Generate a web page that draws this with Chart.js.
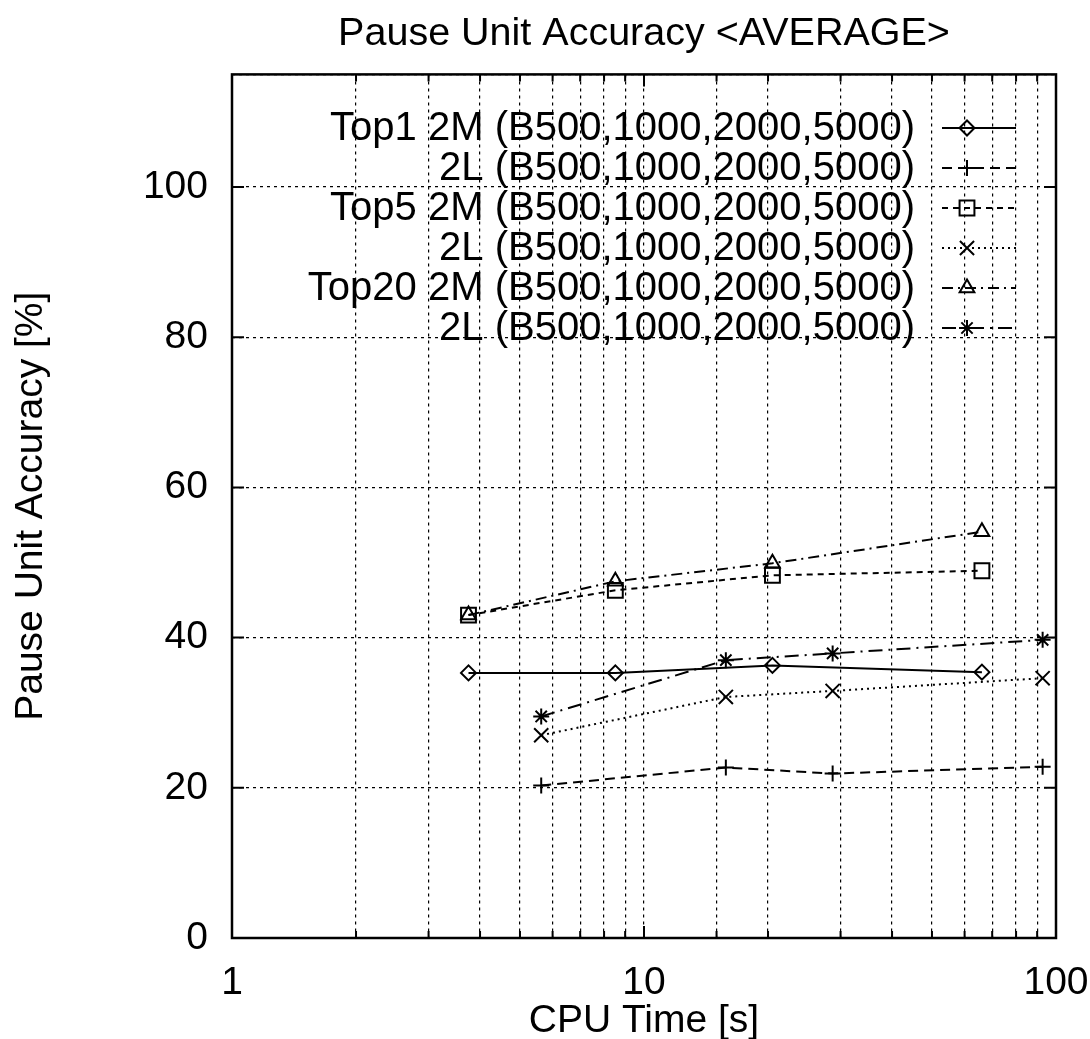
<!DOCTYPE html>
<html>
<head>
<meta charset="utf-8">
<script src="https://cdn.jsdelivr.net/npm/chart.js@4.4.1/dist/chart.umd.min.js"></script>
<style>
  html, body { margin: 0; padding: 0; background: #fff; }
</style>
</head>
<body>
<canvas id="chart" width="1090" height="1039"></canvas>
<script>
// CPU time [s] of each beam setting (B500, 1000, 2000, 5000)
const TIME_2M = [3.75, 8.52, 20.5, 66.1];
const TIME_2L = [5.63, 15.8, 28.7, 92.8];

// pause unit accuracy [%]
const TOP1_2M = [35.3, 35.3, 36.3, 35.4];
const TOP1_2L = [20.3, 22.7, 21.9, 22.8];
const TOP5_2M = [43.0, 46.3, 48.3, 48.9];
const TOP5_2L = [27.0, 32.1, 32.9, 34.6];
const TOP20_2M = [43.0, 47.5, 49.9, 54.1];
const TOP20_2L = [29.5, 37.0, 37.9, 39.7];

const SERIES_LABELS = [
  "Top1 2M (B500,1000,2000,5000)",
  "2L (B500,1000,2000,5000)",
  "Top5 2M (B500,1000,2000,5000)",
  "2L (B500,1000,2000,5000)",
  "Top20 2M (B500,1000,2000,5000)",
  "2L (B500,1000,2000,5000)",
];

const X_TICKS = [1, 10, 100];
const Y_TICKS = [0, 20, 40, 60, 80, 100];

const FONT = '"Liberation Sans", Arial, sans-serif';

// line / point look of each series, gnuplot style
const STYLES = [
  { dash: [], point: "rectRot", r: 7.5 },
  { dash: [10, 6], point: "cross", r: 8 },
  { dash: [6, 5], point: "rect", r: 10.5 },
  { dash: [2, 4], point: "crossRot", r: 10 },
  { dash: [11, 5, 2, 5], point: "triangle", r: 8.5 },
  { dash: [14, 6, 2, 6], point: "star", r: 8 },
];

const SERIES = [
  [TIME_2M, TOP1_2M],
  [TIME_2L, TOP1_2L],
  [TIME_2M, TOP5_2M],
  [TIME_2L, TOP5_2L],
  [TIME_2M, TOP20_2M],
  [TIME_2L, TOP20_2L],
];

const datasets = SERIES.map(([xs, ys], i) => ({
  label: SERIES_LABELS[i],
  data: xs.map((x, k) => ({ x: x, y: ys[k] })),
  borderColor: "#000",
  borderWidth: 2,
  borderDash: STYLES[i].dash,
  pointStyle: STYLES[i].point,
  pointRadius: STYLES[i].r,
  pointBorderWidth: 2,
  pointBorderColor: "#000",
  pointBackgroundColor: "rgba(0,0,0,0)",
  tension: 0,
  fill: false,
}));

// frame and inward tick marks on all four sides
const framePlugin = {
  id: "frame",
  afterDatasetsDraw(chart) {
    const { ctx, chartArea: a, scales } = chart;
    ctx.save();
    ctx.strokeStyle = "#000";
    ctx.setLineDash([]);
    ctx.lineWidth = 2;
    ctx.beginPath();
    scales.x.ticks.forEach((t) => {
      const px = scales.x.getPixelForValue(t.value);
      const len = X_TICKS.includes(t.value) ? 12 : 7;
      ctx.moveTo(px, a.bottom);
      ctx.lineTo(px, a.bottom - len);
      ctx.moveTo(px, a.top);
      ctx.lineTo(px, a.top + len);
    });
    scales.y.ticks.forEach((t) => {
      if (!Y_TICKS.includes(t.value)) return;
      const py = scales.y.getPixelForValue(t.value);
      ctx.moveTo(a.left, py);
      ctx.lineTo(a.left + 12, py);
      ctx.moveTo(a.right, py);
      ctx.lineTo(a.right - 12, py);
    });
    ctx.stroke();
    ctx.lineWidth = 2.5;
    ctx.strokeRect(a.left, a.top, a.right - a.left, a.bottom - a.top);
    ctx.restore();
  },
};

// gnuplot-like key: right aligned text, sample on the right
const keyPlugin = {
  id: "gnuKey",
  afterDraw(chart) {
    const ctx = chart.ctx;
    ctx.save();
    ctx.font = "40px " + FONT;
    ctx.textAlign = "right";
    ctx.textBaseline = "middle";
    chart.data.datasets.forEach((ds, i) => {
      const y = 128 + 40 * i;
      ctx.fillStyle = "#000";
      ctx.fillText(ds.label, 915, y + 1);
      ctx.strokeStyle = "#000";
      ctx.lineWidth = ds.borderWidth;
      ctx.setLineDash(ds.borderDash);
      ctx.beginPath();
      ctx.moveTo(942, y);
      ctx.lineTo(1016, y);
      ctx.stroke();
      ctx.setLineDash([]);
      ctx.lineWidth = ds.pointBorderWidth;
      ctx.fillStyle = "rgba(0,0,0,0)";
      Chart.helpers.drawPoint(
        ctx,
        { pointStyle: ds.pointStyle, radius: ds.pointRadius, borderWidth: ds.pointBorderWidth, rotation: 0 },
        967,
        y
      );
    });
    ctx.restore();
  },
};

Chart.defaults.font.family = FONT;
Chart.defaults.color = "#000";

new Chart(document.getElementById("chart"), {
  type: "line",
  data: { datasets: datasets },
  plugins: [framePlugin, keyPlugin],
  options: {
    responsive: false,
    animation: false,
    devicePixelRatio: 1,
    layout: { padding: { left: 0, right: 34, top: 0, bottom: 0 } },
    plugins: {
      legend: { display: false },
      tooltip: { enabled: false },
      title: {
        display: true,
        fullSize: false,
        text: "Pause Unit Accuracy <AVERAGE>",
        color: "#000",
        font: { size: 39.5, weight: "normal", lineHeight: 1.2 },
        padding: { top: 10, bottom: 17 },
      },
    },
    scales: {
      x: {
        type: "logarithmic",
        min: 1,
        max: 100,
        afterFit: (s) => {
          s.height = 101;
          s.paddingLeft = 0;
          s.paddingRight = 0;
        },
        grid: { color: "#000", lineWidth: 1.2, drawTicks: false },
        border: { display: false, dash: [3, 4] },
        ticks: {
          autoSkip: false,
          maxRotation: 0,
          padding: 22,
          font: { size: 39 },
          callback: (v) => (X_TICKS.includes(v) ? String(v) : ""),
        },
        title: {
          display: true,
          text: "CPU Time [s]",
          font: { size: 39, lineHeight: 1.0 },
          padding: { top: 0, bottom: -2 },
        },
      },
      y: {
        min: 0,
        max: 115,
        afterFit: (s) => { s.width = 232; },
        grid: { color: "#000", lineWidth: 1.2, drawTicks: false },
        border: { display: false, dash: [3, 4] },
        ticks: {
          stepSize: 20,
          padding: 24,
          font: { size: 39 },
          callback: (v) => (Y_TICKS.includes(v) ? String(v) : ""),
        },
        title: {
          display: true,
          text: "Pause Unit Accuracy [%]",
          font: { size: 39, lineHeight: 1.2 },
          padding: { top: 8, bottom: 0 },
        },
      },
    },
  },
});
</script>
</body>
</html>
